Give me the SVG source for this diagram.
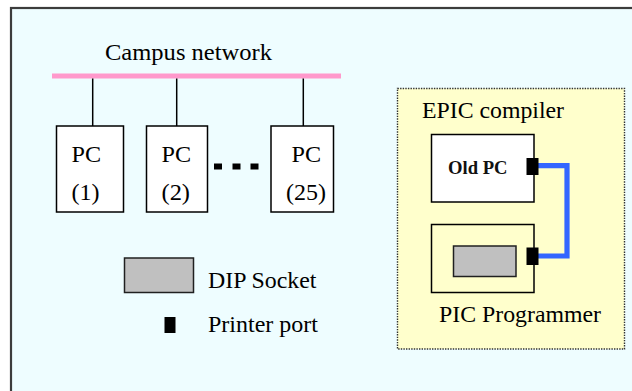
<svg xmlns="http://www.w3.org/2000/svg" width="632" height="391" viewBox="0 0 632 391">
<style>
text{font-family:'Liberation Serif','DejaVu Serif',serif;font-size:24px;fill:#000}
.box{fill:#fff;stroke:#000;stroke-width:1.5}
.wire{stroke:#000;stroke-width:1.5;fill:none}
.port{fill:#000}
.dip{fill:#c0c0c0;stroke:#202020;stroke-width:1.5}
</style>
<rect x="0" y="0" width="632" height="391" fill="#fff"/>
<rect id="frame" x="11" y="8" width="700" height="500" fill="#eefdff" stroke="#3c3c3c" stroke-width="2.2"/>

<g id="connectors">
  <rect id="bus" x="52" y="73.5" width="289" height="5" fill="#ff99cc"/>
  <line class="wire" x1="92.7" y1="78.5" x2="92.7" y2="126"/>
  <line class="wire" x1="176.7" y1="78.5" x2="176.7" y2="126"/>
  <line class="wire" x1="303.3" y1="78.5" x2="303.3" y2="126"/>
</g>

<g id="pc1">
  <rect class="box" x="56.5" y="126" width="67" height="86"/>
  <text x="71.5" y="162" textLength="29.5" lengthAdjust="spacingAndGlyphs">PC</text>
  <text x="71.5" y="200" textLength="28" lengthAdjust="spacingAndGlyphs">(1)</text>
</g>
<g id="pc2">
  <rect class="box" x="146.5" y="126" width="61" height="86"/>
  <text x="161.5" y="162" textLength="29.5" lengthAdjust="spacingAndGlyphs">PC</text>
  <text x="161.5" y="200" textLength="28.5" lengthAdjust="spacingAndGlyphs">(2)</text>
</g>
<g id="ellipsis">
  <rect x="214" y="163.5" width="8" height="6" fill="#000"/>
  <rect x="232.5" y="163.5" width="8" height="6" fill="#000"/>
  <rect x="250.5" y="163.5" width="8" height="6" fill="#000"/>
</g>
<g id="pc25">
  <rect class="box" x="271" y="126" width="62.5" height="86"/>
  <text x="291.5" y="162" textLength="29.5" lengthAdjust="spacingAndGlyphs">PC</text>
  <text x="286" y="200" textLength="40" lengthAdjust="spacingAndGlyphs">(25)</text>
</g>
<g id="campus-label">
  <text x="105" y="60" textLength="167" lengthAdjust="spacingAndGlyphs">Campus network</text>
</g>

<g id="legend">
  <rect class="dip" x="124.5" y="258" width="69" height="34.5"/>
  <text x="208" y="288" textLength="108.5" lengthAdjust="spacingAndGlyphs">DIP Socket</text>
  <rect class="port" x="164.5" y="317" width="11" height="16"/>
  <text x="208" y="332" textLength="110" lengthAdjust="spacingAndGlyphs">Printer port</text>
</g>

<g id="epic">
  <rect x="397.5" y="88.5" width="227" height="260.5" fill="#ffffcc" stroke="#333" stroke-width="1.4" stroke-dasharray="1.4 1.2"/>
  <text x="422" y="118" textLength="142" lengthAdjust="spacingAndGlyphs">EPIC compiler</text>
</g>
<g id="connectors-cable">
  <polyline points="538,165.7 567,165.7 567,256 538,256" fill="none" stroke="#3366ff" stroke-width="5.2"/>
</g>
<g id="oldpc">
  <rect class="box" x="431.5" y="134.5" width="102.5" height="67.5"/>
  <text x="448" y="173.5" textLength="59.5" lengthAdjust="spacingAndGlyphs" style="font-size:18px;font-weight:bold;fill:#111">Old PC</text>
  <rect class="port" x="526.5" y="158" width="12" height="17"/>
</g>
<g id="picprog">
  <rect x="431.5" y="224.5" width="102.5" height="68" fill="none" stroke="#000" stroke-width="1.5"/>
  <rect class="dip" x="453.5" y="246" width="62.5" height="30.5"/>
  <rect class="port" x="526.5" y="247.5" width="12" height="17.5"/>
  <text x="439" y="322" textLength="162" lengthAdjust="spacingAndGlyphs">PIC Programmer</text>
</g>
</svg>
